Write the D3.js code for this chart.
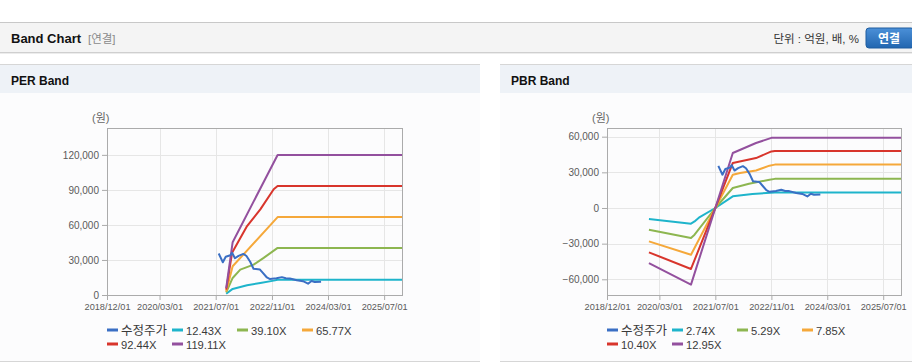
<!DOCTYPE html>
<html>
<head>
<meta charset="utf-8">
<title>Band Chart</title>
<style>
  body { margin: 0; background: #fff; font-family: 'Liberation Sans', Arial, 'Noto Sans CJK KR', sans-serif; }
  svg { display: block; }
  .axis .domain { display: none; }
  .axis .tick line { stroke: #aaa; }
  .axis .tick text { fill: #5a5a5a; font-family: 'Liberation Sans', Arial, sans-serif; }
  .grid line { stroke: #e6e6e6; stroke-width: 1; }
  .band { fill: none; stroke-width: 2; stroke-linejoin: round; }
  .legend text { fill: #3a3a3a; }
</style>
</head>
<body>
<svg width="912" height="364"></svg>

<script src="https://d3js.org/d3.v7.min.js"></script>
<script>
  // ---- data ----
  const xTickLabels = ["2018/12/01", "2020/03/01", "2021/07/01", "2022/11/01", "2024/03/01", "2025/07/01"];
  const perTicks = [0, 30000, 60000, 90000, 120000];
  const pbrTicks = [-60000, -30000, 0, 30000, 60000];
  const perNames = ["12.43X", "39.10X", "65.77X", "92.44X", "119.11X"];
  const pbrNames = ["2.74X", "5.29X", "7.85X", "10.40X", "12.95X"];
  const priceName = "수정주가";

  // adjusted stock price (same in both charts)
  const price = [
    ["2021-07-27", 35500], ["2021-09-01", 28000], ["2021-09-26", 32800], ["2021-11-05", 34000],
    ["2021-11-20", 36200], ["2021-12-15", 31500], ["2022-01-15", 33500], ["2022-02-26", 35200],
    ["2022-03-25", 33400], ["2022-04-26", 28500], ["2022-05-25", 22500], ["2022-07-20", 21800],
    ["2022-08-18", 18500], ["2022-09-18", 15000], ["2022-10-15", 13600], ["2022-12-10", 14300],
    ["2023-01-26", 15300], ["2023-03-01", 14300], ["2023-04-05", 14200], ["2023-06-05", 12600],
    ["2023-07-28", 11800], ["2023-09-10", 9700], ["2023-10-10", 12000], ["2023-11-07", 11200],
    ["2024-01-01", 11400]
  ];

  const perBand1 = [["2021-09-30", 1100], ["2021-11-25", 5200], ["2022-03-30", 8300], ["2022-07-23", 10300],
                    ["2022-11-16", 12300], ["2022-12-20", 13100], ["2025-12-03", 13100]];
  const perBand2 = [["2021-09-30", 2200], ["2021-11-25", 14600], ["2022-01-30", 21700], ["2022-05-26", 26000],
                    ["2022-08-21", 31800], ["2022-12-20", 40300], ["2025-12-03", 40300]];
  const perBand3 = [["2021-09-30", 3100], ["2021-11-25", 24600], ["2022-12-20", 66700], ["2025-12-03", 66700]];
  const perBand4 = [["2021-09-30", 4600], ["2021-11-20", 36100], ["2022-03-30", 59000], ["2022-07-23", 73300],
                    ["2022-11-16", 90500], ["2022-12-20", 93300], ["2025-12-03", 93300]];
  const perBand5 = [["2021-09-30", 5800], ["2021-11-25", 45200], ["2022-12-20", 119900], ["2025-12-03", 119900]];

  const pbrBand1 = [["2019-12-01", -9300], ["2020-12-01", -13200], ["2021-01-01", -11300], ["2021-02-15", -7600],
                    ["2021-07-01", 0], ["2021-11-30", 9800], ["2022-05-20", 11800], ["2022-12-01", 13000], ["2025-12-03", 13000]];
  const pbrBand2 = [["2019-12-01", -18300], ["2020-12-01", -25300], ["2021-01-01", -22500], ["2021-07-01", 0],
                    ["2021-11-30", 16800], ["2022-04-20", 20400], ["2022-10-15", 23800], ["2022-12-01", 24500], ["2025-12-03", 24500]];
  const pbrBand3 = [["2019-12-01", -28100], ["2020-12-01", -39300], ["2021-07-01", 0], ["2021-11-30", 28000],
                    ["2022-02-01", 29500], ["2022-06-20", 31600], ["2022-10-15", 35600], ["2022-12-01", 36500], ["2025-12-03", 36500]];
  const pbrBand4 = [["2019-12-01", -37300], ["2020-12-01", -51300], ["2021-07-01", 0], ["2021-11-30", 37900],
                    ["2022-06-20", 42000], ["2022-11-01", 47600], ["2022-12-01", 48000], ["2025-12-03", 48000]];
  const pbrBand5 = [["2019-12-01", -46300], ["2020-12-01", -64500], ["2021-07-01", 0], ["2021-11-30", 46300],
                    ["2022-06-20", 54700], ["2022-11-01", 59000], ["2022-12-01", 59000], ["2025-12-03", 59000]];

  const priceColor = "#3a6fc4";
  const bandColors = ["#1eb4cb", "#8db650", "#f5a83a", "#d8352c", "#93509e"];

  // ---- page chrome ----
  let svg = d3.select("svg");
  let parse = d3.timeParse("%Y-%m-%d");
  let tickParse = d3.timeParse("%Y/%m/%d");

  svg.append("rect").attr("x", 0).attr("y", 22).attr("width", 912).attr("height", 31)
    .attr("fill", "#f4f4f4");
  svg.append("line").attr("x1", 0).attr("x2", 912).attr("y1", 22.5).attr("y2", 22.5).attr("stroke", "#c8c8c8");
  svg.append("line").attr("x1", 0).attr("x2", 912).attr("y1", 52.5).attr("y2", 52.5).attr("stroke", "#cfcfcf");
  svg.append("line").attr("x1", 0).attr("x2", 912).attr("y1", 53.5).attr("y2", 53.5).attr("stroke", "#ececec");

  svg.append("text").attr("x", 11).attr("y", 43).text("Band Chart")
    .style("font-size", "13px").style("font-weight", "bold").style("fill", "#111");
  svg.append("text").attr("x", 88).attr("y", 43).text("[연결]")
    .style("font-size", "11.5px").style("fill", "#8a8a8a");
  svg.append("text").attr("x", 859).attr("y", 43).attr("text-anchor", "end").text("단위 : 억원, 배, %")
    .style("font-size", "11.5px").style("fill", "#333");

  let grad = svg.append("defs").append("linearGradient").attr("id", "btn")
    .attr("x1", 0).attr("x2", 0).attr("y1", 0).attr("y2", 1);
  grad.append("stop").attr("offset", "0%").attr("stop-color", "#4b90d8");
  grad.append("stop").attr("offset", "100%").attr("stop-color", "#2266b0");
  svg.append("rect").attr("x", 866).attr("y", 28).attr("width", 48).attr("height", 20).attr("rx", 3)
    .attr("fill", "url(#btn)").attr("stroke", "#1f5d9f");
  svg.append("text").attr("x", 889).attr("y", 42.5).attr("text-anchor", "middle").text("연결")
    .style("font-size", "12px").style("font-weight", "bold").style("fill", "#fff");

  // ---- one panel ----
  function drawPanel(opt) {
    let g = svg.append("g");

    g.append("rect").attr("x", opt.px).attr("y", 64).attr("width", opt.pw).attr("height", 297)
      .attr("fill", "#fcfcfd");
    g.append("rect").attr("x", opt.px).attr("y", 64).attr("width", opt.pw).attr("height", 29)
      .attr("fill", "#eef2f7");
    g.append("line").attr("x1", opt.px).attr("x2", opt.px + opt.pw).attr("y1", 64.5).attr("y2", 64.5)
      .attr("stroke", "#d6d6d6");
    g.append("line").attr("x1", opt.px).attr("x2", opt.px + opt.pw).attr("y1", 361.5).attr("y2", 361.5)
      .attr("stroke", "#d6d6d6");
    g.append("text").attr("x", opt.px + 11).attr("y", 85).text(opt.title)
      .style("font-size", "12px").style("font-weight", "bold").style("fill", "#111");

    let x = d3.scaleTime()
      .domain([parse("2018-12-01"), parse("2025-12-03")])
      .range([opt.left, opt.right]);
    let y = d3.scaleLinear()
      .domain(opt.yDomain)
      .range([295, 128]);

    let xDates = xTickLabels.map(tickParse);

    // grid
    g.append("g").attr("class", "grid").selectAll("line").data(xDates).join("line")
      .attr("x1", d => Math.round(x(d)) + 0.5).attr("x2", d => Math.round(x(d)) + 0.5)
      .attr("y1", 128).attr("y2", 295);
    g.append("g").attr("class", "grid").selectAll("line").data(opt.ticks).join("line")
      .attr("x1", opt.left).attr("x2", opt.right)
      .attr("y1", d => Math.round(y(d)) + 0.5).attr("y2", d => Math.round(y(d)) + 0.5);

    // axes
    g.append("g").attr("class", "axis")
      .attr("transform", `translate(${opt.left},0)`)
      .call(d3.axisLeft(y).tickValues(opt.ticks).tickSize(5).tickPadding(3).tickFormat(d3.format(",")))
      .selectAll("text").style("font-size", "10px");
    g.append("g").attr("class", "axis")
      .attr("transform", "translate(0,295)")
      .call(d3.axisBottom(x).tickValues(xDates).tickSize(5).tickPadding(3).tickFormat(d3.timeFormat("%Y/%m/%d")))
      .selectAll("text").style("font-size", "9.2px");

    g.append("rect").attr("x", opt.left + 0.5).attr("y", 128.5)
      .attr("width", opt.right - opt.left).attr("height", 167)
      .attr("fill", "none").attr("stroke", "#ababab");

    g.append("text").attr("x", opt.left - 15).attr("y", 122).text("(원)")
      .style("font-size", "11px").style("fill", "#666");

    let line = d3.line()
      .x(d => x(parse(d[0])))
      .y(d => y(d[1]));

    // bands then price on top
    opt.bands.forEach((b, i) => {
      g.append("path").datum(b).attr("class", "band")
        .attr("stroke", bandColors[i]).attr("d", line);
    });
    g.append("path").datum(price).attr("class", "band")
      .attr("stroke", priceColor).attr("d", line);

    // legend
    let items = [{ name: priceName, color: priceColor }]
      .concat(opt.names.map((n, i) => ({ name: n, color: bandColors[i] })));
    let leg = g.append("g").attr("class", "legend");
    items.forEach((it, i) => {
      let col = i % 4, row = Math.floor(i / 4);
      let lx = opt.left + col * 65;
      let ly = 330 + row * 14;
      leg.append("line").attr("x1", lx).attr("x2", lx + 11).attr("y1", ly).attr("y2", ly)
        .attr("stroke", it.color).attr("stroke-width", 3);
      leg.append("text").attr("x", lx + 14).attr("y", ly + 4.5).text(it.name)
        .style("font-size", i == 0 ? "12.5px" : "11.2px");
    });
  }

  drawPanel({
    title: "PER Band", px: 0, pw: 480, left: 107, right: 402,
    yDomain: [0, 143000], ticks: perTicks, names: perNames,
    bands: [perBand1, perBand2, perBand3, perBand4, perBand5]
  });
  drawPanel({
    title: "PBR Band", px: 500, pw: 412, left: 607, right: 901,
    yDomain: [-73200, 67300], ticks: pbrTicks, names: pbrNames,
    bands: [pbrBand1, pbrBand2, pbrBand3, pbrBand4, pbrBand5]
  });
</script>
</body>
</html>
